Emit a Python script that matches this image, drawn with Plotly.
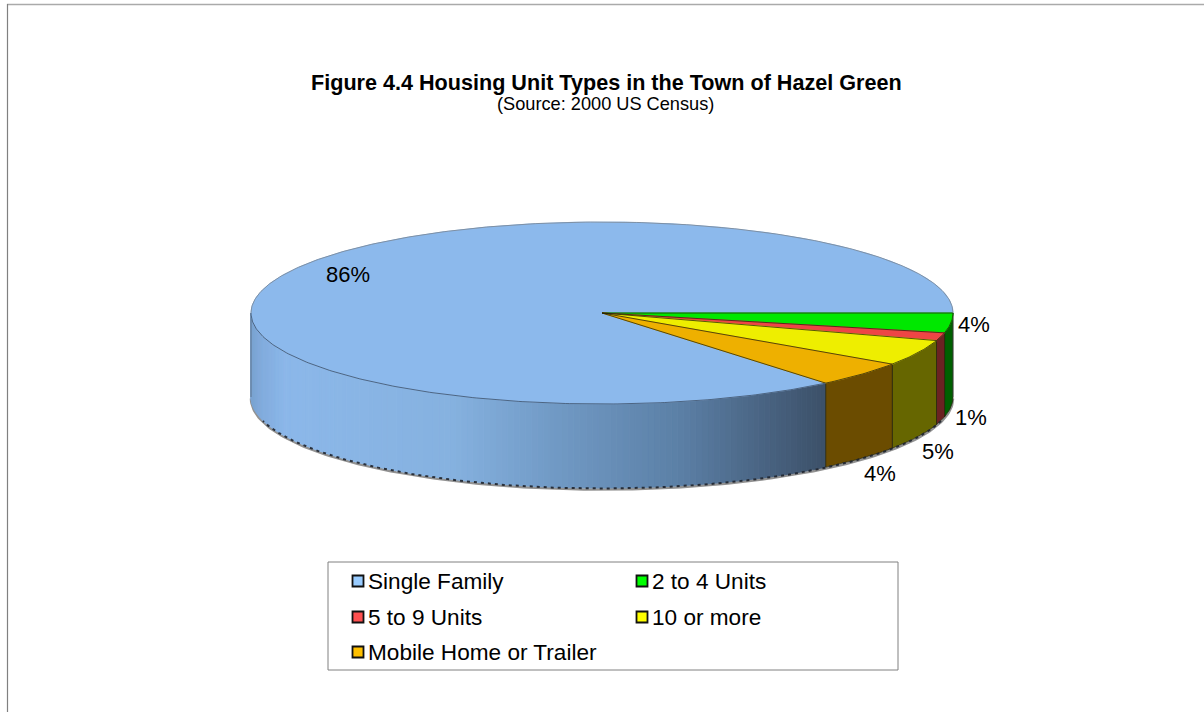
import numpy as np
import plotly.graph_objects as go

categories = ["Single Family", "2 to 4 Units", "5 to 9 Units", "10 or more", "Mobile Home or Trailer"]
# slice shares as drawn in the picture, and the labels printed beside them
slice_shares = [86.0, 3.5, 1.4, 4.6, 4.5]
percent_labels = ["86%", "4%", "1%", "5%", "4%"]
top_colors = ["#8CB9EC", "#00E800", "#EE4545", "#EEEE00", "#EEB000"]
side_colors = [None, "#006000", "#6B2222", "#666600", "#6B4C00"]
legend_colors = ["#99CCFF", "#00FF00", "#FF5050", "#FFFF00", "#FFC000"]
title_text = "Figure 4.4 Housing Unit Types in the Town of Hazel Green"
subtitle_text = "(Source: 2000 US Census)"

W, H = 1204, 712
CX, CY, RX, RY, DEPTH = 602, 313, 351, 91, 84
FONT = "Liberation Sans, Arial, sans-serif"
EDGE = "rgba(35,35,10,0.75)"

# Label offsets from the slice's rim mid point (pixels)
label_offsets = [(64, 0), (23, 2), (30, 81), (20, 99), (18, 99)]

# Single-family wall shading: screen x -> colour
grad_x = [251, 262, 285, 450, 560, 680, 770, 827]
grad_rgb = [(122, 163, 209), (130, 172, 222), (140, 184, 234), (134, 178, 224),
            (112, 153, 196), (92, 128, 166), (72, 98, 128), (60, 80, 104)]


def rim(theta_deg, depth=0.0):
    t = np.radians(theta_deg)
    return CX + RX * np.cos(t), CY + RY * np.sin(t) + depth


def grad(x):
    rgb = [np.interp(x, grad_x, [c[i] for c in grad_rgb]) for i in range(3)]
    return "rgb(%d,%d,%d)" % tuple(int(v) for v in rgb)


total = sum(slice_shares)
sweeps = [360 * v / total for v in slice_shares]
# the first slice ends at 3 o'clock after sweeping clockwise
bounds = [360 - sweeps[0]]
for s in sweeps:
    bounds.append(bounds[-1] + s)

fig = go.Figure()


def poly(x, y, fill, line=None, width=0, name=""):
    fig.add_trace(go.Scatter(
        x=list(x), y=list(y), mode="lines", fill="toself", fillcolor=fill,
        line=dict(color=line or fill, width=width if line else 1),
        hoverinfo="skip", showlegend=False, name=name))


def stroke(x, y, color, width=1, dash="solid"):
    fig.add_trace(go.Scatter(x=list(x), y=list(y), mode="lines",
                             line=dict(color=color, width=width, dash=dash),
                             hoverinfo="skip", showlegend=False))


# soft shadow under the lower rim
sx, sy = rim(np.linspace(0, 180, 181), DEPTH + 1.5)
stroke(sx, sy, "#929292", 2.5)

# walls (front half only)
for i, cat in enumerate(categories):
    a, b = bounds[i], bounds[i + 1]
    if i == 0:
        edges = np.linspace(a, 180, 130)
        for e0, e1 in zip(edges[:-1], edges[1:]):
            th = np.array([e0, e1])
            x0, y0 = rim(th)
            x1, y1 = rim(th[::-1], DEPTH)
            poly(np.r_[x0, x1, x0[0]], np.r_[y0, y1, y0[0]], grad(x0.mean()), name=cat)
    else:
        th = np.linspace(a, b, 24)
        x0, y0 = rim(th)
        x1, y1 = rim(th[::-1], DEPTH)
        poly(np.r_[x0, x1, x0[0]], np.r_[y0, y1, y0[0]], side_colors[i], EDGE, 1, name=cat)

# lower rim: broken dark edge over the grey shadow
bx, by = rim(np.linspace(15, 165, 200), DEPTH + 0.5)
stroke(bx, by, "rgba(30,35,45,0.9)", 2, "3px,4px")

# vertical outer edge on the left and right
for th in (180, 0):
    x0, y0 = rim(th)
    stroke([x0, x0], [y0, y0 + DEPTH], "rgba(70,80,90,0.55)", 1)

# top faces
for i, cat in enumerate(categories):
    th = np.linspace(bounds[i], bounds[i + 1], max(8, int(sweeps[i] * 2)))
    x, y = rim(th)
    poly(np.r_[CX, x, CX], np.r_[CY, y, CY], top_colors[i], name=cat)

# slice divider lines on top
for i in range(1, len(categories) + 1):
    x, y = rim(bounds[i])
    stroke([CX, x], [CY, y], EDGE, 1)

# rim outline: light grey at the back, dark at the front
x, y = rim(np.linspace(180, 360, 240))
stroke(x, y, "rgba(120,130,140,0.75)", 1)
x, y = rim(np.linspace(bounds[0], 180, 200))
stroke(x, y, "rgba(35,45,60,0.6)", 1)
x, y = rim(np.linspace(0, bounds[0], 80))
stroke(x, y, EDGE, 1)

# percent labels
annotations = []
for i, label in enumerate(percent_labels):
    mid = (bounds[i] + bounds[i + 1]) / 2
    mx, my = rim(mid)
    dx, dy = label_offsets[i]
    annotations.append(dict(x=mx + dx, y=my + dy, text=label, showarrow=False,
                            xanchor="center", yanchor="middle",
                            font=dict(family=FONT, size=22, color="#000")))

# titles
annotations.append(dict(x=606, y=82, text=f"<b>{title_text}</b>", showarrow=False,
                        xanchor="center", yanchor="middle",
                        font=dict(family=FONT, size=21.6, color="#000")))
annotations.append(dict(x=605, y=104, text=subtitle_text, showarrow=False,
                        xanchor="center", yanchor="middle",
                        font=dict(family=FONT, size=18.2, color="#000")))

# legend
legend_pos = [(358, 581), (642, 581), (358, 617), (642, 617), (358, 652)]
for i, cat in enumerate(categories):
    lx, ly = legend_pos[i]
    fig.add_trace(go.Scatter(x=[lx], y=[ly], mode="markers",
                             marker=dict(symbol="square", size=11, color=legend_colors[i],
                                         line=dict(color="#111", width=1.8)),
                             name=cat, showlegend=False, hoverinfo="name"))
    annotations.append(dict(x=lx + 8, y=ly, text=cat, showarrow=False, xanchor="left",
                            yanchor="middle", font=dict(family=FONT, size=22.6, color="#000")))

shapes = [
    dict(type="rect", x0=328, y0=562, x1=898, y1=670, line=dict(color="#808080", width=1), fillcolor="rgba(0,0,0,0)"),
    dict(type="line", x0=7, y0=4.5, x1=1204, y1=4.5, line=dict(color="#aaaaaa", width=1.5)),
    dict(type="line", x0=7.5, y0=4, x1=7.5, y1=712, line=dict(color="#808080", width=1.2)),
]

fig.update_layout(
    width=W, height=H, margin=dict(l=0, r=0, t=0, b=0),
    paper_bgcolor="white", plot_bgcolor="white", showlegend=False,
    xaxis=dict(range=[0, W], visible=False, fixedrange=True),
    yaxis=dict(range=[H, 0], visible=False, fixedrange=True),
    annotations=annotations, shapes=shapes,
)
fig.write_html("out.html", config=dict(displayModeBar=False),
               post_script="document.body.style.margin='0';document.body.style.overflow='hidden';")
